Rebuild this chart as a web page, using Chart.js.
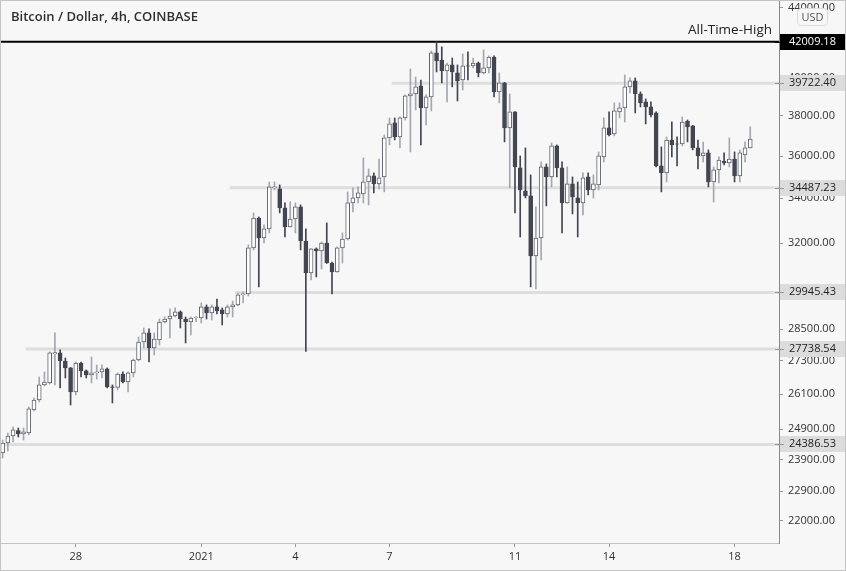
<!DOCTYPE html>
<html>
<head>
<meta charset="utf-8">
<script src="https://cdn.jsdelivr.net/npm/chart.js@4.4.1/dist/chart.umd.min.js"></script>
<style>
  html, body { margin: 0; padding: 0; background: #f7f7f7; }
  #wrap { position: relative; width: 846px; height: 571px; overflow: hidden; }
  #frame { position: absolute; left: 0; top: 0; right: 0; bottom: 0; border: 1px solid #c4c4c4; pointer-events: none; }
  .title { position: absolute; left: 11px; top: 7px; font: 600 13px "Open Sans"; color: #2f2f2f; }
  .ath { position: absolute; right: 74px; top: 20px; font: 13.5px "Open Sans"; color: #222; }
  .usd { position: absolute; left: 797px; top: 8px; width: 29px; height: 16px; border: 1px solid #dcdcdc; border-radius: 4px;
         background: #f7f7f7; font: 11px "Open Sans"; color: #555; text-align: center; line-height: 16px; }
</style>
</head>
<body>
<div id="wrap">
  <canvas id="chart" width="846" height="571"></canvas>
  <div class="title">Bitcoin / Dollar, 4h, COINBASE</div>
  <div class="ath">All-Time-High</div>
  <div class="usd">USD</div>
  <div id="frame"></div>
</div>
<script>
// 4h candles, first one starts 2020-12-25 16:00
const opens = [24109,24435,24667,24845,24734,24768,25550,25895,26427,26498,27556,27594,27296,27041,26179,27223,26932,26786,26859,26895,
  27005,26356,26338,26822,26533,26859,27332,28005,28349,27781,28080,28772,28889,29007,29165,28889,28772,28928,28928,29363,
  29126,29363,29244,29086,29363,29442,29842,29883,31798,33111,32229,32625,34482,34436,33563,32713,33066,33608,32098,30743,
  31755,31670,32012,31159,30785,31798,32185,33789,34018,34204,34761,35045,34668,34997,36889,37644,36939,37899,39043,39149,
  39574,38416,38990,41377,40983,40384,40711,40275,39893,40656,40656,40820,40275,40547,41152,39255,39734,37392,38209,35426,
  34343,34111,31455,32229,35474,34997,36494,35426,33789,34668,34018,33789,34997,34390,34622,35955,37392,37090,38209,38416,
  39521,39840,39149,38727,38467,38157,35522,35188,36788,36592,36592,37745,37493,36396,36004,36151,34761,35331,35760,35665,
  35857,35045,36053,36396];
const highs = [24533,24768,24970,24936,24936,25654,25966,26713,26895,27631,28349,27706,27407,27060,27259,27259,26968,27444,27150,27150,
  27041,26427,26859,26895,26895,27369,28195,28541,28503,28349,28889,28968,29284,29323,29205,28968,28968,28980,29521,29442,
  29442,29680,29323,29442,29600,29923,29964,31927,33337,33157,32801,34761,34761,34622,33789,33835,33789,33699,32625,31770,
  31798,32055,32889,31200,31841,32449,34297,34482,34529,35906,35379,35188,35857,37040,37899,37899,37951,39096,40493,40057,
  39893,39096,41490,42009,41714,40820,41096,40711,41321,41433,41096,40874,41546,41208,41208,40275,39760,39149,38230,36004,
  36396,35093,33608,35713,35617,36641,36543,35713,35474,34997,34761,35188,35188,35093,36200,37899,38209,38675,38675,40166,
  40002,40002,39255,38883,38727,38209,36445,36939,37694,36939,37951,37795,37520,36788,36690,36298,35474,35955,36151,36889,
  36200,36298,36690,37443];
const lows = [23945,24174,24468,24634,24533,24701,25515,25826,26391,26462,26427,26320,26677,25722,26072,26713,26677,26498,26640,26677,
  26320,25792,26250,26498,26179,26713,27296,27781,27259,27519,27893,28734,28157,28968,28541,27968,28272,28784,28734,28889,
  28849,29086,28657,28968,28968,29402,29521,29801,31713,30167,32012,32449,34390,33337,32273,32713,32449,31713,27650,30451,
  30576,30910,31140,29883,30770,31159,32141,33383,33789,33789,33699,34250,34436,34297,36543,36788,36396,37795,36200,38313,
  36543,37543,38261,40329,39734,38727,39521,38778,39361,39893,40547,40057,40220,40275,38990,38675,36690,34482,33337,32273,
  34018,30167,30086,31284,33654,34529,34997,32449,33770,33292,32273,33247,34157,34018,34390,35710,36990,36990,37899,37694,
  39202,38157,38467,37594,37951,35474,34297,34761,35955,35522,36494,36690,36298,35379,35713,34529,33835,34714,35570,35474,
  34761,34761,35713,36396];
const closes = [24435,24667,24869,24734,24802,25585,25895,26427,26533,27594,27605,27296,27041,26179,27223,26932,26786,26859,26895,27005,
  26356,26338,26822,26533,26859,27332,28005,28349,27781,28118,28772,28889,29007,29165,28889,28772,28928,28948,29363,29126,
  29363,29205,29086,29363,29442,29842,29883,31798,33111,32229,32625,34529,34529,33563,32713,33066,33608,32098,30743,31755,
  31670,32012,31159,30785,31798,32185,33789,34018,34250,34761,35045,34668,34949,36889,37594,36939,37899,39043,39149,39521,
  38416,38990,41377,40929,40384,40711,40329,39840,40656,40640,40820,40275,40547,41152,39255,39734,37392,38209,35474,34390,
  34111,31455,32229,35474,34997,36494,35426,33789,34668,34064,33789,34949,34390,34668,36004,37392,37040,38261,38416,39521,
  39840,39149,38675,38467,38054,35522,35188,36788,36543,36580,37694,37443,36396,36004,36151,34761,35331,35808,35665,35857,
  35045,36151,36396,36838];

const emptySlots = 5;
const tickDates = ['2020-12-28', '2021-01-01', '2021-01-04', '2021-01-07', '2021-01-11', '2021-01-14', '2021-01-18'];
const tickTexts = ['28', '2021', '4', '7', '11', '14', '18'];
const yTicks = [44000, 42000, 40000, 38000, 36000, 34000, 32000, 30000, 28500, 27300, 26100, 24900, 23900, 22900, 22000];

// horizontal levels drawn on the chart (start = candle index of the ray)
const levelValues = [42009.18, 39722.40, 34487.23, 29945.43, 27738.54, 24386.53];
const levelStart = [0, 75, 44, 45, 5, 0];
const levelColor = ['#000000', '#dedede', '#dedede', '#dedede', '#dedede', '#dedede'];
const levelBox = ['#000000', '#dcdcdc', '#dcdcdc', '#dcdcdc', '#dcdcdc', '#dcdcdc'];
const levelTextColor = ['#ffffff', '#222222', '#222222', '#222222', '#222222', '#222222'];

// labels, one per 4h slot
const labels = [];
const t0 = Date.UTC(2020, 11, 25, 16);
for (let i = 0; i < opens.length + emptySlots; i++) {
  labels.push(new Date(t0 + i * 4 * 3600 * 1000).toISOString().slice(0, 13));
}
const tickMap = {};
tickDates.forEach((d, k) => { tickMap[labels.indexOf(d + 'T00')] = tickTexts[k]; });

const up = opens.map((o, i) => closes[i] >= o);
const wickData = opens.map((o, i) => [lows[i], highs[i]]);
const bodyData = opens.map((o, i) => [Math.min(o, closes[i]), Math.max(o, closes[i])]);

const levelPlugin = {
  id: 'levels',
  beforeDatasetsDraw(chart) {
    const { ctx, chartArea, scales } = chart;
    levelValues.forEach((v, k) => {
      const y = scales.y.getPixelForValue(v);
      const x0 = levelStart[k] === 0 ? chartArea.left : scales.x.getPixelForValue(levelStart[k]) - 3;
      ctx.save();
      ctx.strokeStyle = levelColor[k];
      ctx.lineWidth = k === 0 ? 2 : 3;
      ctx.beginPath();
      ctx.moveTo(x0, y);
      ctx.lineTo(chartArea.right, y);
      ctx.stroke();
      ctx.restore();
    });
  },
  afterDraw(chart) {
    const { ctx, chartArea, scales } = chart;
    ctx.save();
    levelValues.forEach((v, k) => {
      const y = Math.round(scales.y.getPixelForValue(v));
      ctx.fillStyle = levelBox[k];
      ctx.fillRect(chartArea.right + 1, y - 8, chart.width - chartArea.right - 1, 16);
      ctx.strokeStyle = k === 0 ? '#000' : '#999';
      ctx.lineWidth = 1;
      ctx.beginPath();
      ctx.moveTo(chartArea.right - 4, y + 0.5);
      ctx.lineTo(chartArea.right + 5, y + 0.5);
      ctx.stroke();
      ctx.fillStyle = levelTextColor[k];
      ctx.font = '11px "Open Sans"';
      ctx.textAlign = 'left';
      ctx.textBaseline = 'middle';
      ctx.fillText(v.toFixed(2), chartArea.right + 10, y);
    });
    ctx.restore();
  }
};

Chart.defaults.font.family = '"Open Sans", sans-serif';

new Chart(document.getElementById('chart'), {
  type: 'bar',
  data: {
    labels: labels,
    datasets: [{
      data: wickData,
      backgroundColor: up.map(u => u ? '#a4a7b0' : '#434651'),
      barThickness: 1,
      grouped: false,
      order: 2,
    }, {
      data: bodyData,
      backgroundColor: up.map(u => u ? '#ffffff' : '#434651'),
      borderColor: up.map(u => u ? '#5f626c' : '#434651'),
      borderWidth: 1,
      borderSkipped: false,
      barThickness: 4,
      grouped: false,
      order: 1,
    }]
  },
  options: {
    responsive: false,
    animation: false,
    layout: { padding: 0 },
    plugins: { legend: { display: false }, tooltip: { enabled: false } },
    scales: {
      x: {
        type: 'category',
        offset: true,
        grid: { drawOnChartArea: false, drawTicks: true, tickLength: 4, tickColor: '#9a9a9a', offset: false },
        border: { display: true, color: '#c2c2c2' },
        ticks: {
          autoSkip: false, maxRotation: 0, color: '#333', font: { size: 11 }, padding: 3,
          callback: (v) => tickMap[v] || ''
        },
        afterBuildTicks: s => { s.ticks = s.ticks.filter(t => tickMap[t.value] !== undefined); },
        afterFit: s => { s.height = 28; s.paddingLeft = 0; s.paddingRight = 0; }
      },
      y: {
        type: 'logarithmic',
        position: 'right',
        min: 21348,
        max: 44442,
        bounds: 'data',
        grid: { drawOnChartArea: false, drawTicks: true, tickLength: 4, tickColor: '#9a9a9a' },
        border: { display: true, color: '#8a8a8a' },
        ticks: { autoSkip: false, color: '#333', font: { size: 11 }, padding: 5, callback: v => Number(v).toFixed(2) },
        afterBuildTicks: s => { s.ticks = yTicks.map(v => ({ value: v })); },
        afterFit: s => { s.width = 67; s.paddingTop = 0; s.paddingBottom = 0; }
      }
    }
  },
  plugins: [levelPlugin]
});
</script>
</body>
</html>
